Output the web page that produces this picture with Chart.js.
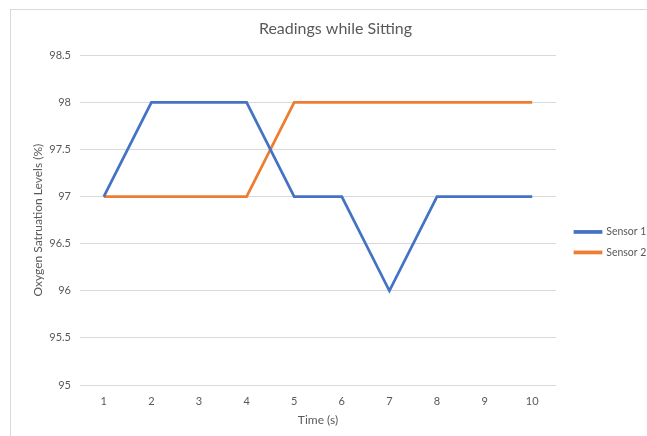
<!DOCTYPE html>
<html>
<head>
<meta charset="utf-8">
<script src="https://cdn.jsdelivr.net/npm/chart.js@4"></script>
<style>
  html, body { margin: 0; padding: 0; background: #fff; overflow: hidden; }
  #frame { position: absolute; left: 10px; top: 9px; width: 700px; height: 500px; border: 1px solid #d9d9d9; }
  #wrap { position: absolute; left: 0; top: 0; width: 647px; height: 436px; }
</style>
</head>
<body>
<div id="frame"></div>
<div id="wrap"><canvas id="sittingChart" width="647" height="436"></canvas></div>
<script>
// data
const timeLabels = ['1', '2', '3', '4', '5', '6', '7', '8', '9', '10'];
const sensor1 = [97, 98, 98, 98, 97, 97, 96, 97, 97, 97];
const sensor2 = [97, 97, 97, 97, 98, 98, 98, 98, 98, 98];
const yMin = 95;
const yMax = 98.5;
const yStep = 0.5;

const textGrey = '#595959';
const gridGrey = '#d9d9d9';
Chart.defaults.font.family = "Lato, 'Open Sans', sans-serif";
Chart.defaults.color = textGrey;

new Chart(document.getElementById('sittingChart').getContext('2d'), {
    type: 'line',
    data: {
        labels: timeLabels,
        datasets: [
            {
                label: 'Sensor 1',
                data: sensor1,
                borderColor: '#4472c4',
                backgroundColor: '#4472c4',
                borderWidth: 2.75,
                pointRadius: 0,
                tension: 0
            },
            {
                label: 'Sensor 2',
                data: sensor2,
                borderColor: '#ed7d31',
                backgroundColor: '#ed7d31',
                borderWidth: 2.75,
                pointRadius: 0,
                tension: 0
            }
        ]
    },
    options: {
        responsive: false,
        animation: false,
        devicePixelRatio: 1,
        layout: { padding: { left: 24, right: 0, top: 0, bottom: 0 } },
        plugins: {
            title: {
                display: true,
                text: 'Readings while Sitting',
                color: textGrey,
                font: { size: 16, weight: 'normal' },
                padding: { top: 19, bottom: 17 }
            },
            legend: {
                position: 'right',
                maxWidth: 82,
                // empty title only nudges the items down a bit
                title: { display: true, text: '', padding: { top: 0, bottom: 34 } },
                labels: {
                    boxWidth: 26,
                    boxHeight: 1,
                    padding: 10,
                    color: textGrey,
                    font: { size: 10.5 }
                }
            },
            tooltip: { enabled: false }
        },
        scales: {
            x: {
                offset: true,
                grid: { display: false, drawTicks: false },
                border: { display: false },
                ticks: { padding: 10, font: { size: 11 }, color: textGrey },
                title: {
                    display: true,
                    text: 'Time (s)',
                    color: textGrey,
                    font: { size: 12 },
                    padding: { top: 0, bottom: 9 }
                },
                afterFit: (scale) => { scale.height = 51; }
            },
            y: {
                min: yMin,
                max: yMax,
                grid: { color: gridGrey, lineWidth: 1, drawTicks: false },
                border: { display: false },
                ticks: {
                    stepSize: yStep,
                    padding: 9,
                    font: { size: 11 },
                    color: textGrey,
                    callback: (v) => String(v)
                },
                title: {
                    display: true,
                    text: 'Oxygen Satruation Levels (%)',
                    color: textGrey,
                    font: { size: 12 },
                    padding: { top: 7, bottom: 0 }
                },
                afterFit: (scale) => { scale.width = 56; }
            },
            // empty spacer between plot and legend
            gap: {
                type: 'linear',
                position: 'right',
                display: true,
                grid: { display: false, drawTicks: false },
                border: { display: false },
                ticks: { display: false },
                afterFit: (scale) => { scale.width = 9; }
            }
        }
    }
});
</script>
</body>
</html>
